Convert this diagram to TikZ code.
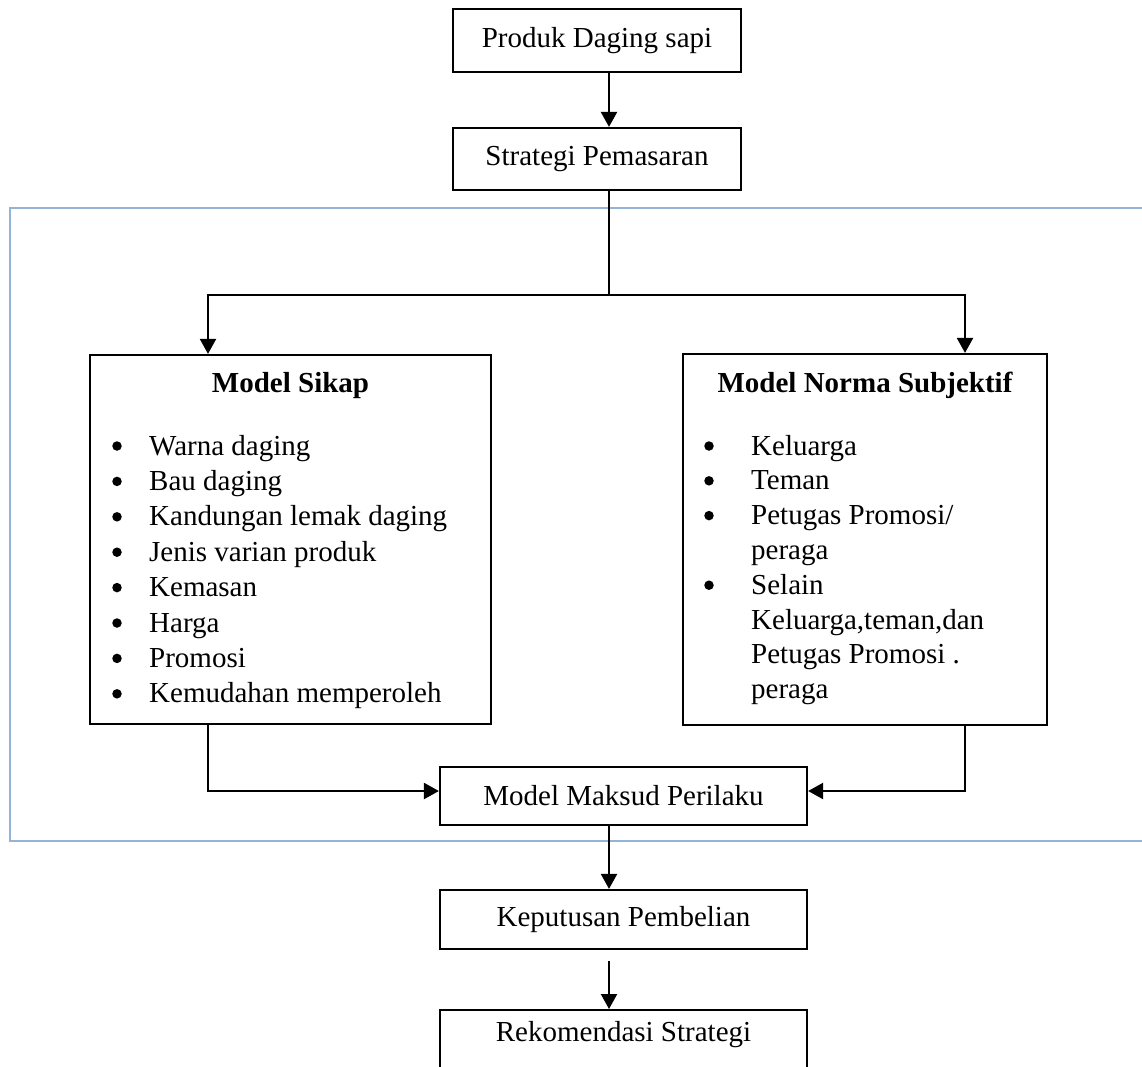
\documentclass[tikz,border=0pt]{standalone}
\usepackage{fontspec}
\setmainfont{Liberation Serif}
\usetikzlibrary{arrows.meta,calc}
\definecolor{frameblue}{RGB}{149,179,215}
\begin{document}
\begin{tikzpicture}[x=1pt,y=-1pt,
  box/.style={draw=black,line width=2.2pt,rectangle,inner sep=0pt,align=center,
    font=\fontsize{29}{35}\selectfont},
  txt/.style={inner sep=0pt,font=\fontsize{29}{35}\selectfont},
  head/.style={inner sep=0pt,font=\fontsize{29}{35}\selectfont\bfseries},
  dot/.style={circle,fill=black,inner sep=0pt,minimum size=9.5pt},
  conn/.style={draw=black,line width=2.2pt},
  arr/.style={conn,-{Triangle[length=15pt,width=16pt]}},
  frame/.style={draw=frameblue,line width=2.2pt}
]
\useasboundingbox (0,0) rectangle (1142,1066);
\clip (0,0) rectangle (1142,1066);
\fill[white] (0,0) rectangle (1142,1066);

% blue frame (open to the right)
\draw[frame] (1160,208) -- (10,208) -- (10,841) -- (1160,841);

% helper coordinates
\coordinate (spine) at (609,0);
\coordinate (sx) at (208,0);
\coordinate (nx) at (965,0);
\coordinate (branch) at (609,295);
\coordinate (my) at (0,791);

% boxes
\node[box,minimum width=288pt,minimum height=63pt] (produk) at (597,40.5) {Produk Daging sapi};
\node[box,minimum width=288pt,minimum height=62pt] (strategi) at (597,159) {Strategi Pemasaran};
\node[box,minimum width=401pt,minimum height=369pt] (sikap) at (290.5,539.5) {};
\node[box,minimum width=364pt,minimum height=371pt] (norma) at (865,539.5) {};
\node[box,minimum width=367pt,minimum height=58pt] (maksud) at (623.5,796) {Model Maksud Perilaku};
\node[box,minimum width=367pt,minimum height=59pt] (keputusan) at (623.5,919.5) {Keputusan Pembelian};
\node[box,minimum width=367pt,text height=31pt,text depth=60pt,anchor=north] (rekomendasi) at (623.5,1009) {Rekomendasi Strategi};

% headings
\node[head,anchor=base] (sikaphead) at (290.5,392) {Model Sikap};
\node[head,anchor=base] (normahead) at (865,392) {Model Norma Subjektif};

% left list
\foreach \t [count=\i] in {Warna daging,Bau daging,Kandungan lemak daging,Jenis varian produk,Kemasan,Harga,Promosi,Kemudahan memperoleh}{
  \node[dot] (sb\i) at (117,{455+35.4*(\i-1)-9}) {};
  \node[txt,anchor=base west] (st\i) at (149,{455+35.4*(\i-1)}) {\t};
}

% right list
\foreach \t [count=\i] in {Keluarga,Teman,Petugas Promosi/,peraga,Selain,{Keluarga,teman,dan},Petugas Promosi .,peraga}{
  \node[txt,anchor=base west] (nt\i) at (751,{455+34.8*(\i-1)}) {\t};
}
\foreach \i in {1,2,3,5}{
  \node[dot] (nb\i) at (709,{455+34.8*(\i-1)-9}) {};
}

% connectors
\draw[arr] (produk.south -| spine) -- (strategi.north -| spine);
\draw[conn] (strategi.south -| spine) -- (branch);
\draw[arr] (branch) -| (sikap.north -| sx);
\draw[arr] (branch) -| (norma.north -| nx);
\draw[arr] (sikap.south -| sx) |- (maksud.west |- my);
\draw[arr] (norma.south -| nx) |- (maksud.east |- my);
\draw[arr] (maksud.south -| spine) -- (keputusan.north -| spine);
\draw[arr,shorten <=11pt] (keputusan.south -| spine) -- (rekomendasi.north -| spine);
\end{tikzpicture}
\end{document}
